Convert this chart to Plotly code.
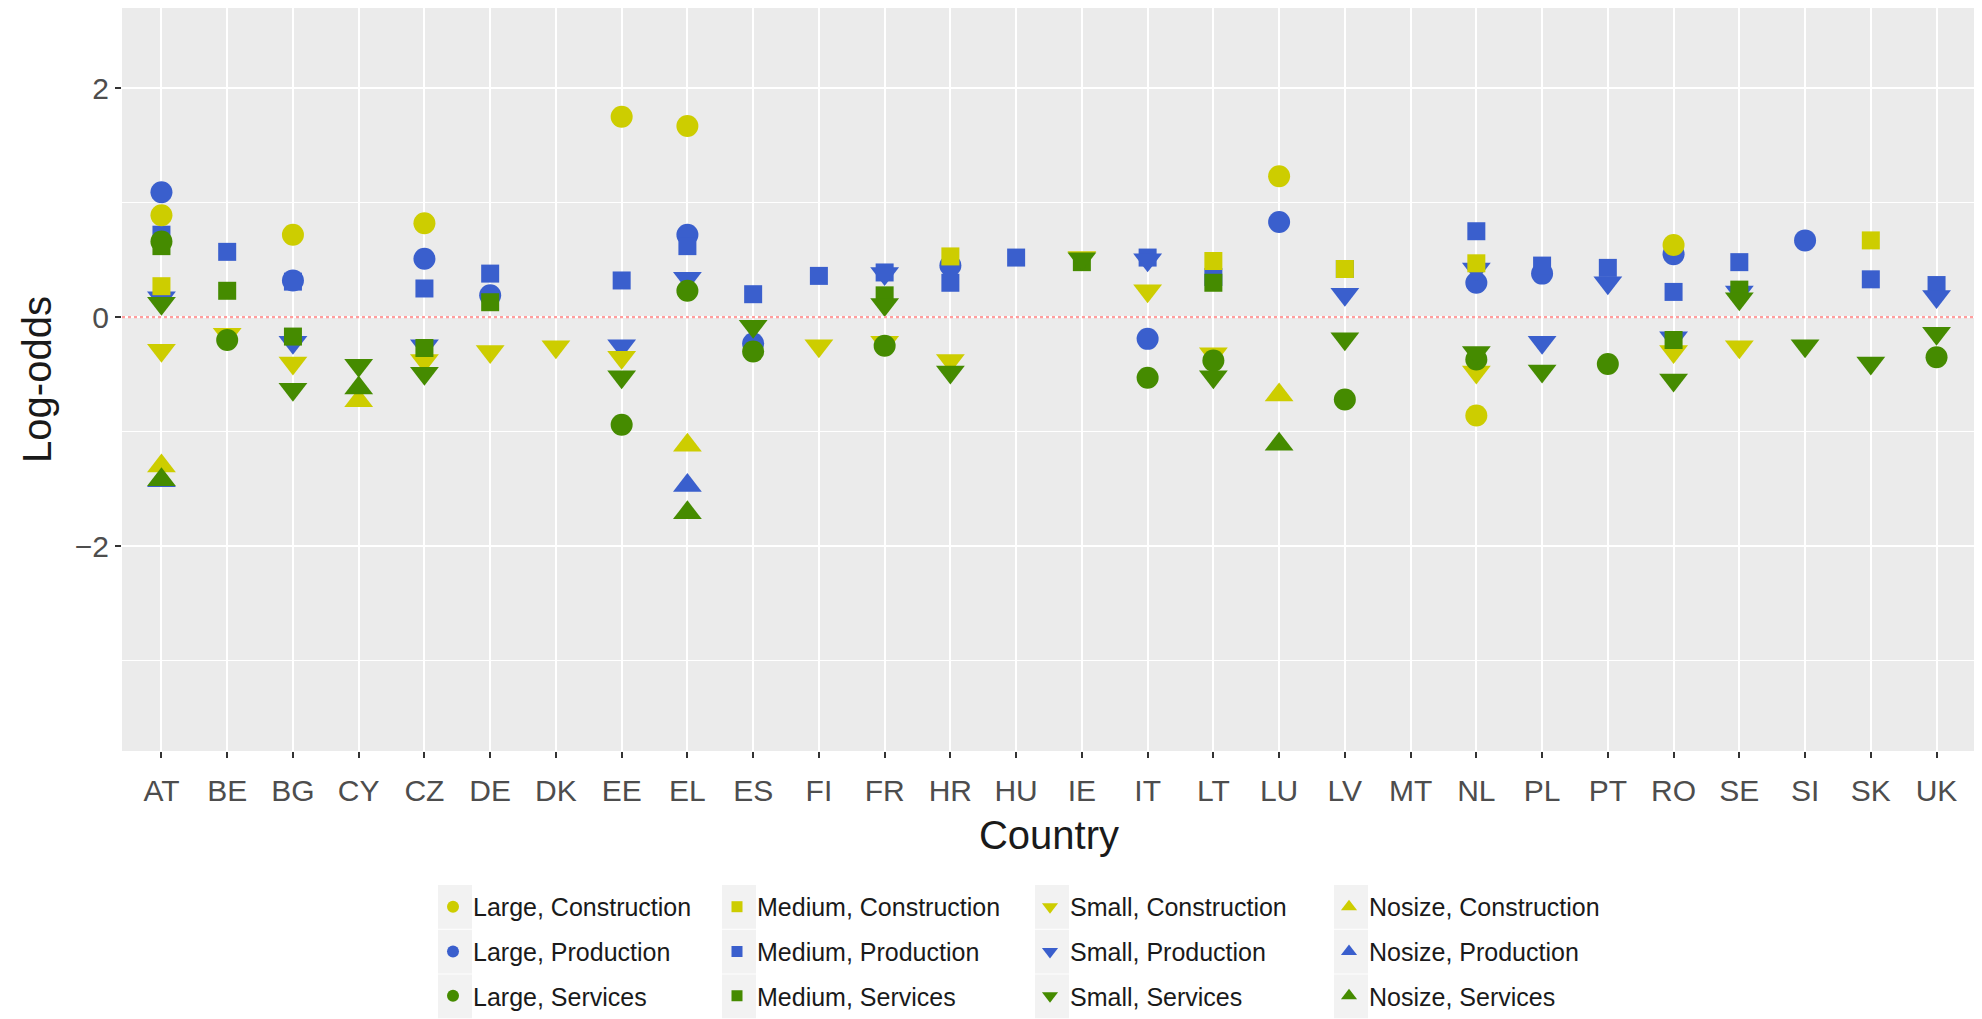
import plotly.graph_objects as go

countries = ["AT", "BE", "BG", "CY", "CZ", "DE", "DK", "EE", "EL", "ES", "FI", "FR", "HR", "HU",
             "IE", "IT", "LT", "LU", "LV", "MT", "NL", "PL", "PT", "RO", "SE", "SI", "SK", "UK"]

# Log-odds per series, as (country, value) pairs
large_construction = [("AT", 0.89), ("BG", 0.72), ("CZ", 0.82), ("EE", 1.75), ("EL", 1.67),
                      ("LU", 1.23), ("NL", -0.86), ("RO", 0.63)]
large_production = [("AT", 1.09), ("BG", 0.32), ("CZ", 0.51), ("DE", 0.19), ("EL", 0.72),
                    ("ES", -0.23), ("HR", 0.45), ("IT", -0.19), ("LU", 0.83), ("NL", 0.30),
                    ("PL", 0.38), ("RO", 0.55), ("SI", 0.67)]
large_services = [("AT", 0.66), ("BE", -0.20), ("EE", -0.94), ("EL", 0.23), ("ES", -0.30),
                  ("FR", -0.25), ("IT", -0.53), ("LT", -0.38), ("LV", -0.72), ("NL", -0.37),
                  ("PT", -0.41), ("UK", -0.35)]
medium_construction = [("AT", 0.27), ("HR", 0.53), ("LT", 0.49), ("LV", 0.42), ("NL", 0.47),
                       ("SK", 0.67)]
medium_production = [("AT", 0.72), ("BE", 0.57), ("BG", 0.31), ("CZ", 0.25), ("DE", 0.38),
                     ("EE", 0.32), ("EL", 0.62), ("ES", 0.20), ("FI", 0.36), ("FR", 0.39),
                     ("HR", 0.30), ("HU", 0.52), ("IT", 0.52), ("LT", 0.35), ("LV", 0.42),
                     ("NL", 0.75), ("PL", 0.45), ("PT", 0.43), ("RO", 0.22), ("SE", 0.48),
                     ("SK", 0.33), ("UK", 0.28)]
medium_services = [("AT", 0.62), ("BE", 0.23), ("BG", -0.17), ("CZ", -0.27), ("DE", 0.13),
                   ("FR", 0.19), ("IE", 0.48), ("LT", 0.30), ("RO", -0.20), ("SE", 0.24)]
small_construction = [("AT", -0.29), ("BE", -0.15), ("BG", -0.40), ("CZ", -0.38), ("DE", -0.30),
                      ("DK", -0.26), ("EE", -0.35), ("FI", -0.25), ("FR", -0.22), ("HR", -0.38),
                      ("IE", 0.52), ("IT", 0.23), ("LT", -0.32), ("NL", -0.48), ("RO", -0.30),
                      ("SE", -0.26)]
small_production = [("AT", 0.17), ("BG", -0.22), ("CZ", -0.25), ("EE", -0.25), ("EL", 0.34),
                    ("FR", 0.38), ("IT", 0.50), ("LV", 0.20), ("NL", 0.42), ("PL", -0.22),
                    ("PT", 0.30), ("RO", -0.18), ("SE", 0.22), ("UK", 0.18)]
small_services = [("AT", 0.12), ("BG", -0.63), ("CY", -0.42), ("CZ", -0.49), ("EE", -0.52),
                  ("ES", -0.08), ("FR", 0.11), ("HR", -0.48), ("IE", 0.51), ("LT", -0.52),
                  ("LV", -0.19), ("NL", -0.31), ("PL", -0.47), ("RO", -0.55), ("SE", 0.16),
                  ("SI", -0.25), ("SK", -0.40), ("UK", -0.14)]
nosize_construction = [("AT", -1.30), ("CY", -0.73), ("EL", -1.12), ("LU", -0.68)]
nosize_production = [("AT", -1.43), ("EL", -1.47)]
nosize_services = [("AT", -1.42), ("CY", -0.62), ("EL", -1.71), ("LU", -1.11)]

YELLOW = "#CDCD00"
BLUE = "#3A5FCD"
GREEN = "#458B00"

series = {
    ("Large", "Construction"): large_construction,
    ("Large", "Production"): large_production,
    ("Large", "Services"): large_services,
    ("Medium", "Construction"): medium_construction,
    ("Medium", "Production"): medium_production,
    ("Medium", "Services"): medium_services,
    ("Small", "Construction"): small_construction,
    ("Small", "Production"): small_production,
    ("Small", "Services"): small_services,
    ("Nosize", "Construction"): nosize_construction,
    ("Nosize", "Production"): nosize_production,
    ("Nosize", "Services"): nosize_services,
}
sizes = ["Large", "Medium", "Small", "Nosize"]
sectors = ["Construction", "Production", "Services"]
color_of = {"Construction": YELLOW, "Production": BLUE, "Services": GREEN}
symbol_of = {"Large": "circle", "Medium": "square", "Small": "triangle-down", "Nosize": "triangle-up"}
msize_of = {"Large": 22, "Medium": 18, "Small": 25, "Nosize": 25}
legend_msize_of = {"Large": 12, "Medium": 11, "Small": 14, "Nosize": 14}

FONT = "Liberation Sans, Arial, sans-serif"

# Figure geometry. The page body has an 8px margin, so page px = figure px + 8.
OFF = 8
W, H = 1982 - OFF, 1019 - OFF
ML, MR, MT, MB = 122 - OFF, W - (1976 - OFF), 0, H - (756 - OFF)
PW, PH = W - ML - MR, H - MT - MB


def paper_x(page_px):
    return (page_px - OFF - ML) / PW


def paper_y(page_py):
    return (H - MB - (page_py - OFF)) / PH


fig = go.Figure()

# legend layout: column per size, row per sector (page pixel positions of keys)
col_px = [455, 739, 1052, 1351]
row_px = [913, 958, 1003]

legend_ids = {}
k = 0
for s in sizes:
    for sec in sectors:
        k += 1
        legend_ids[(s, sec)] = "legend" if k == 1 else f"legend{k}"

draw_order = ["Production", "Construction", "Services"]
for sec in draw_order:
    for s in sizes:
        data = series[(s, sec)]
        fig.add_trace(go.Scatter(
            x=[c for c, v in data], y=[v for c, v in data],
            mode="markers",
            name=f"{s}, {sec}",
            marker=dict(symbol=symbol_of[s], color=color_of[sec], size=msize_of[s],
                        line=dict(width=0)),
            showlegend=False,
        ))

legend_layouts = {}
for si, s in enumerate(sizes):
    for ri, sec in enumerate(sectors):
        lid = legend_ids[(s, sec)]
        fig.add_trace(go.Scatter(
            x=[None], y=[None], mode="markers", name=f"{s}, {sec}",
            marker=dict(symbol=symbol_of[s], color=color_of[sec], size=legend_msize_of[s]),
            legend=lid, showlegend=True,
        ))
        legend_layouts[lid] = dict(
            x=paper_x(col_px[si] - 22), y=paper_y(row_px[ri]),
            xanchor="left", yanchor="middle", bgcolor="rgba(0,0,0,0)",
            font=dict(family=FONT, size=25, color="#1A1A1A"),
            itemwidth=30,
        )
        fig.add_shape(type="rect", xref="paper", yref="paper",
                      x0=paper_x(col_px[si] - 17), x1=paper_x(col_px[si] + 17),
                      y0=paper_y(row_px[ri] + 22), y1=paper_y(row_px[ri] - 22),
                      fillcolor="#F2F2F2", line=dict(width=0), layer="below")

# zero reference line
fig.add_hline(y=0, line=dict(color="#FF9E9E", width=2.2, dash="dot"))

fig.update_layout(
    width=W, height=H,
    margin=dict(l=ML, r=MR, t=MT, b=MB),
    paper_bgcolor="white",
    plot_bgcolor="#EBEBEB",
    font=dict(family=FONT, color="#1A1A1A"),
    **legend_layouts,
)

fig.update_xaxes(
    type="category", categoryorder="array", categoryarray=countries,
    range=[-0.6, len(countries) - 1 + 0.6],
    showgrid=True, gridcolor="white", gridwidth=2.2,
    ticks="outside", ticklen=6, tickwidth=1.5, tickcolor="#333333",
    tickfont=dict(size=30, color="#4D4D4D"), ticklabelstandoff=7,
    title=dict(text="Country", font=dict(size=40, color="#1A1A1A"), standoff=14),
    zeroline=False, showline=False,
)
fig.update_yaxes(
    range=[-3.79, 2.70],
    tickvals=[-2, 0, 2], ticktext=["\u22122", "0", "2"],
    showgrid=True, gridcolor="white", gridwidth=2.2,
    minor=dict(tickvals=[-3, -1, 1], showgrid=True, gridcolor="white", gridwidth=1.1, ticks=""),
    ticks="outside", ticklen=6, tickwidth=1.5, tickcolor="#333333",
    tickfont=dict(size=30, color="#4D4D4D"),
    title=dict(text="Log-odds", font=dict(size=40, color="#1A1A1A"), standoff=10),
    zeroline=False, showline=False,
)

fig.write_html("out.html")
